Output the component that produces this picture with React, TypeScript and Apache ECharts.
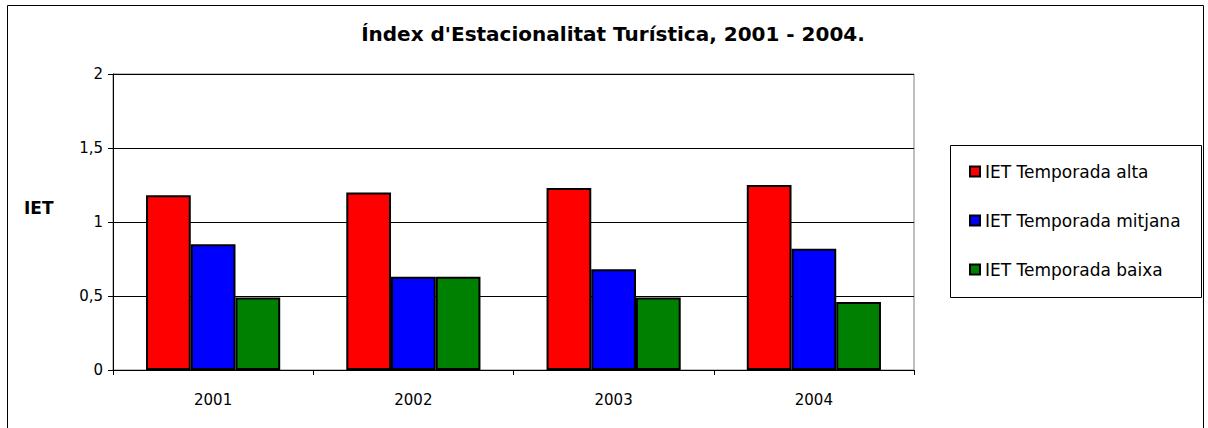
import React, { useEffect, useRef } from "react";
import * as echarts from "echarts";

const categories = ["2001", "2002", "2003", "2004"];
const altaValues = [1.18, 1.2, 1.23, 1.25];
const mitjanaValues = [0.85, 0.63, 0.68, 0.82];
const baixaValues = [0.49, 0.63, 0.49, 0.46];
const seriesNames = ["IET Temporada alta", "IET Temporada mitjana", "IET Temporada baixa"];
const seriesColors = ["#ff0000", "#0000ff", "#008000"];
const titleText = "Índex d'Estacionalitat Turística, 2001 - 2004.";
const yAxisTitle = "IET";

const FONT = "'DejaVu Sans', 'Liberation Sans', Arial, sans-serif";

export default function App() {
  const ref = useRef<HTMLDivElement>(null);
  useEffect(() => {
    if (!ref.current) return;
    const chart = echarts.init(ref.current, undefined, { renderer: "svg" });
    const values = [altaValues, mitjanaValues, baixaValues];
    chart.setOption({
      animation: false,
      backgroundColor: "#ffffff",
      grid: {
        left: 113,
        right: 294,
        top: 74,
        bottom: 58,
        show: true,
        borderColor: "#808080",
        borderWidth: 1,
        backgroundColor: "transparent",
      },
      legend: {
        orient: "vertical",
        left: 964,
        top: 158,
        itemWidth: 10,
        itemHeight: 10,
        itemGap: 32,
        icon: "rect",
        textStyle: { fontFamily: FONT, fontSize: 17, color: "#000", padding: [0, 0, 0, 0] },
        data: seriesNames,
      },
      xAxis: {
        type: "category",
        data: categories,
        axisLine: { lineStyle: { color: "#000", width: 1 } },
        axisTick: { show: true, length: 5, lineStyle: { color: "#000" } },
        axisLabel: { fontFamily: FONT, fontSize: 15, color: "#000", margin: 22 },
      },
      yAxis: {
        type: "value",
        min: 0,
        max: 2,
        interval: 0.5,
        axisLine: { show: true, lineStyle: { color: "#000", width: 1 } },
        axisTick: { show: true, length: 5, lineStyle: { color: "#000" } },
        axisLabel: {
          fontFamily: FONT,
          fontSize: 15,
          color: "#000",
          margin: 10,
          formatter: (v: number) => String(v).replace(".", ","),
        },
        splitLine: { show: true, lineStyle: { color: "#000", width: 1 } },
      },
      series: seriesNames.map((name, i) => ({
        name,
        type: "bar",
        data: values[i],
        barGap: "0%",
        barCategoryGap: "33%",
        itemStyle: { color: seriesColors[i], borderColor: "#000", borderWidth: 2 },
      })),
      graphic: [
        {
          type: "rect",
          shape: { x: 7.5, y: 5.5, width: 1196, height: 440 },
          style: { fill: "none", stroke: "#000", lineWidth: 1 },
          silent: true,
        },
        {
          type: "rect",
          shape: { x: 950.5, y: 145.5, width: 251, height: 152 },
          style: { fill: "none", stroke: "#000", lineWidth: 1 },
          silent: true,
        },
        {
          type: "text",
          x: 613,
          y: 34,
          style: {
            text: titleText,
            fontFamily: FONT,
            fontSize: 20,
            fontWeight: "bold",
            fill: "#000",
            align: "center",
            verticalAlign: "middle",
          },
        },
        {
          type: "text",
          x: 24,
          y: 208,
          style: {
            text: yAxisTitle,
            fontFamily: FONT,
            fontSize: 17,
            fontWeight: "bold",
            fill: "#000",
            align: "left",
            verticalAlign: "middle",
          },
        },
      ],
    });
    return () => chart.dispose();
  }, []);
  return (
    <div
      ref={ref}
      style={{ position: "fixed", left: 0, top: 0, width: 1208, height: 428 }}
    />
  );
}
